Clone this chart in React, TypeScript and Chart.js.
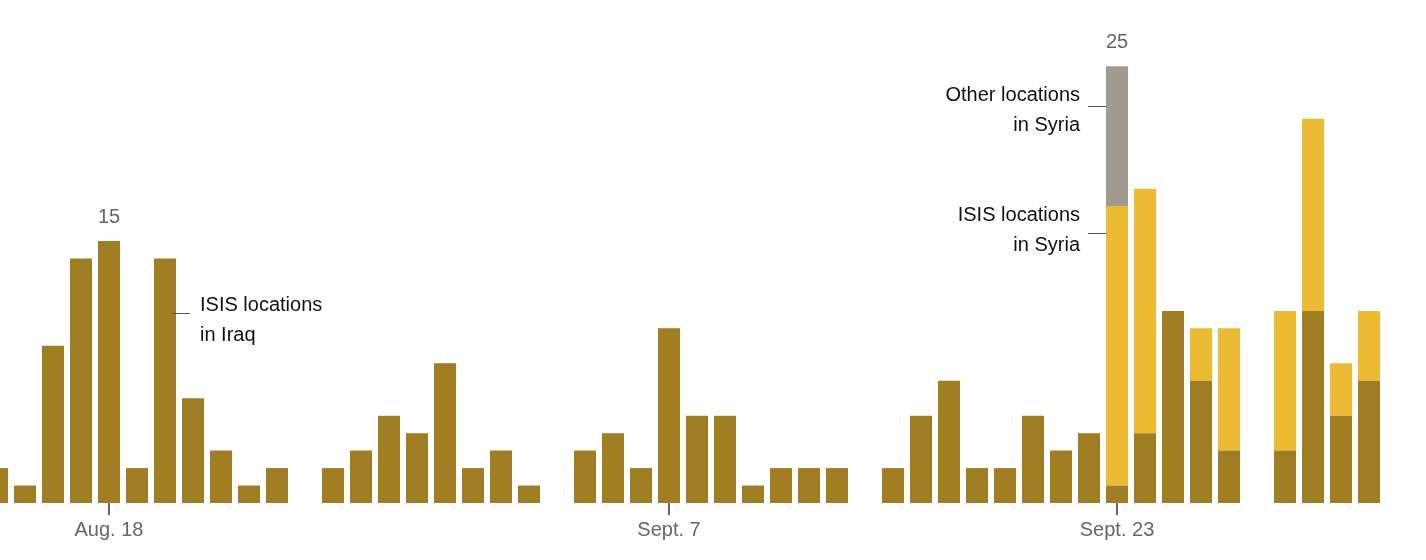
import React, { useEffect, useRef } from 'react';
import { Chart, registerables } from 'chart.js';

Chart.register(...registerables);

// one bar per day, starting Aug. 14
const days: string[] = Array.from({ length: 50 }, (_, i) => `day${i}`);
const iraq = [2, 1, 9, 14, 15, 2, 14, 6, 3, 1, 2, 0, 2, 3, 5, 4, 8, 2, 3, 1, 0, 3, 4, 2, 10, 5, 5, 1, 2, 2, 2, 0, 2, 5, 7, 2, 2, 5, 3, 4, 1, 4, 11, 7, 3, 0, 3, 11, 5, 7];
const syriaIsis = [0, 0, 0, 0, 0, 0, 0, 0, 0, 0, 0, 0, 0, 0, 0, 0, 0, 0, 0, 0, 0, 0, 0, 0, 0, 0, 0, 0, 0, 0, 0, 0, 0, 0, 0, 0, 0, 0, 0, 0, 16, 14, 0, 3, 7, 0, 8, 11, 3, 4];
const syriaOther = [0, 0, 0, 0, 0, 0, 0, 0, 0, 0, 0, 0, 0, 0, 0, 0, 0, 0, 0, 0, 0, 0, 0, 0, 0, 0, 0, 0, 0, 0, 0, 0, 0, 0, 0, 0, 0, 0, 0, 0, 8, 0, 0, 0, 0, 0, 0, 0, 0, 0];
const tickIndex = [4, 24, 40];
const tickLabels = ['Aug. 18', 'Sept. 7', 'Sept. 23'];
const totalLabels = [{ index: 4, text: '15' }, { index: 40, text: '25' }];

const FONT = '"Liberation Sans", Arial, sans-serif';

const overlay = {
  id: 'overlay',
  afterDraw(chart: Chart) {
    const { ctx, scales } = chart;
    const x = scales.x;
    const y = scales.y;
    const base = y.getPixelForValue(0);
    ctx.save();
    ctx.font = `20px ${FONT}`;
    ctx.textBaseline = 'middle';

    // date ticks
    ctx.strokeStyle = '#333';
    ctx.lineWidth = 1.5;
    ctx.fillStyle = '#666';
    ctx.textAlign = 'center';
    tickIndex.forEach((idx, i) => {
      const px = x.getPixelForValue(idx);
      ctx.beginPath();
      ctx.moveTo(px, base);
      ctx.lineTo(px, base + 12);
      ctx.stroke();
      ctx.fillText(tickLabels[i], px, base + 27);
    });

    // totals
    totalLabels.forEach((t) => {
      const v = iraq[t.index] + syriaIsis[t.index] + syriaOther[t.index];
      ctx.fillText(t.text, x.getPixelForValue(t.index), y.getPixelForValue(v) - 24);
    });

    // annotations
    ctx.fillStyle = '#111';
    ctx.strokeStyle = '#555';
    ctx.lineWidth = 1;
    const line = (x1: number, x2: number, yy: number) => {
      ctx.beginPath();
      ctx.moveTo(x1, yy);
      ctx.lineTo(x2, yy);
      ctx.stroke();
    };
    const ix = x.getPixelForValue(6) + 7;
    line(ix, ix + 18, 313.5);
    ctx.textAlign = 'left';
    ctx.fillText('ISIS locations', ix + 28, 305);
    ctx.fillText('in Iraq', ix + 28, 335);

    const sx = x.getPixelForValue(40) - 11;
    ctx.textAlign = 'right';
    line(sx - 18, sx, 106.5);
    ctx.fillText('Other locations', sx - 26, 95);
    ctx.fillText('in Syria', sx - 26, 125);
    line(sx - 18, sx, 233.5);
    ctx.fillText('ISIS locations', sx - 26, 215);
    ctx.fillText('in Syria', sx - 26, 245);
    ctx.restore();
  },
};

export default function App() {
  const canvasRef = useRef<HTMLCanvasElement | null>(null);

  useEffect(() => {
    if (!canvasRef.current) return;
    const common = { barPercentage: 22 / 28, categoryPercentage: 1 };
    const chart = new Chart(canvasRef.current, {
      type: 'bar',
      data: {
        labels: days,
        datasets: [
          { label: 'ISIS locations in Iraq', data: iraq, backgroundColor: '#a07d22', ...common },
          { label: 'ISIS locations in Syria', data: syriaIsis, backgroundColor: '#ecbb33', ...common },
          { label: 'Other locations in Syria', data: syriaOther, backgroundColor: '#a19b8f', ...common },
        ],
      },
      options: {
        animation: false,
        responsive: false,
        layout: { padding: { top: 0, bottom: 57, left: 0, right: 0 } },
        plugins: { legend: { display: false }, tooltip: { enabled: false } },
        scales: {
          x: { stacked: true, display: false },
          y: { stacked: true, display: false, min: 0, max: 28.8 },
        },
      },
      plugins: [overlay],
    });
    return () => chart.destroy();
  }, []);

  return (
    <div style={{ position: 'absolute', left: -17, top: 0, width: 1400, height: 560 }}>
      <canvas ref={canvasRef} width={1400} height={560} />
    </div>
  );
}
